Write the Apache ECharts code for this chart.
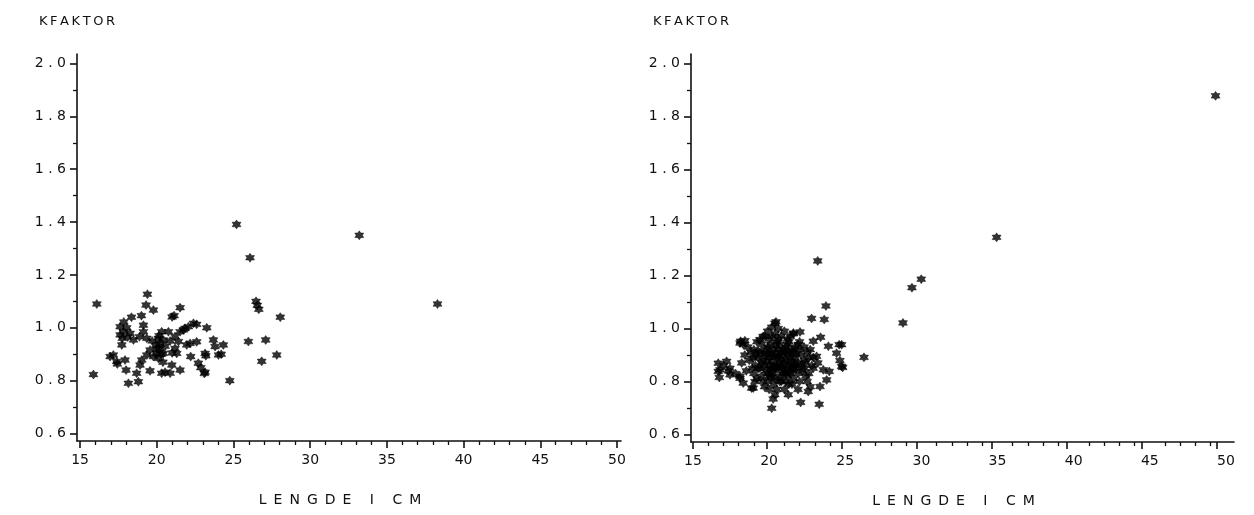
<!DOCTYPE html>
<html><head><meta charset="utf-8">
<script src="https://cdn.jsdelivr.net/npm/echarts@6/dist/echarts.min.js"></script>
<style>html,body{margin:0;padding:0;background:#fff}#c{width:1254px;height:515px}</style>
</head><body><div id="c"></div>
<script>
// Left panel: [length cm, K-factor]
const leftPoints = [
 [15.87,0.823],[16.09,1.09],[16.96,0.891],[17.17,0.897],[17.39,0.872],[17.43,0.863],
 [17.61,1.004],[17.61,0.973],[17.72,0.935],[17.82,0.985],[17.85,1.022],[17.93,0.878],
 [18.0,0.84],[18.04,1.0],[18.26,0.979],[18.35,1.04],[18.15,0.79],[18.48,0.954],
 [18.69,0.828],[18.8,0.796],[18.87,0.966],[18.91,0.859],[19.0,1.046],[19.02,0.878],
 [19.13,1.01],[19.13,0.985],[19.3,1.086],[19.35,0.96],[19.35,0.897],[19.39,1.127],
 [19.56,0.916],[19.56,0.837],[19.78,1.067],[19.78,0.891],[19.95,0.935],[20.0,0.903],
 [20.1,0.96],[20.11,0.884],[20.2,0.922],[20.32,0.985],[20.32,0.828],[20.43,0.954],
 [20.43,0.903],[20.54,0.832],[20.76,0.985],[20.87,0.95],[20.87,0.828],[20.98,0.859],
 [21.0,1.041],[21.13,1.046],[21.19,0.922],[21.19,0.967],[21.3,0.903],[21.41,0.948],
 [21.52,1.076],[21.52,0.985],[21.52,0.84],[21.74,0.992],[21.84,0.998],[21.95,0.935],
 [22.06,1.004],[22.17,0.941],[22.21,0.891],[22.39,1.017],[22.6,1.013],[22.6,0.947],
 [22.71,0.866],[22.87,0.849],[23.15,0.832],[23.15,0.903],[23.26,1.0],[23.1,0.827],
 [23.2,0.894],[23.69,0.954],[23.8,0.929],[24.02,0.897],[24.34,0.935],[24.2,0.9],
 [24.76,0.8],[25.2,1.391],[25.97,0.948],[26.08,1.265],[26.47,1.1],[26.55,1.085],
 [26.65,1.07],[26.84,0.873],[27.1,0.954],[27.82,0.897],[28.05,1.04],[33.2,1.35],
 [38.3,1.09],[20.2,0.94],[20.0,0.92],[20.3,0.9],[20.15,0.97],[20.4,0.87],
 [18.1,0.965],[17.75,0.96],[20.55,0.93],[21.0,0.905],[19.7,0.95]
];
// Right panel: [length cm, K-factor]
const rightPoints = [
 [19.6,0.97],[20.0,0.96],[20.4,0.98],[20.8,0.97],[21.2,0.96],[21.6,0.98],[19.2,0.95],[22.0,0.95],[20.6,1.0],[19.9,0.99],[21.0,0.99],
 [18.6,0.93],[19.0,0.92],[19.5,0.94],[19.9,0.93],[20.3,0.92],[20.7,0.94],[21.1,0.93],[21.5,0.92],[21.9,0.94],[22.3,0.93],[22.7,0.92],
 [18.4,0.9],[18.8,0.91],[19.3,0.89],[19.7,0.9],[20.1,0.91],[20.5,0.89],[20.9,0.9],[21.3,0.91],[21.7,0.89],[22.1,0.9],[22.5,0.91],[22.9,0.89],
 [18.2,0.87],[18.7,0.88],[19.1,0.86],[19.5,0.87],[19.9,0.88],[20.3,0.86],[20.7,0.87],[21.1,0.88],[21.5,0.86],[21.9,0.87],[22.3,0.88],[22.8,0.86],[23.2,0.87],
 [18.5,0.84],[19.0,0.83],[19.4,0.85],[19.8,0.84],[20.2,0.83],[20.6,0.85],[21.0,0.84],[21.4,0.83],[21.8,0.85],[22.2,0.84],[22.6,0.83],
 [19.2,0.81],[19.6,0.8],[20.0,0.82],[20.4,0.81],[20.8,0.8],[21.2,0.82],[21.6,0.81],[22.0,0.8],[22.4,0.82],
 [19.7,0.78],[20.5,0.77],[21.3,0.79],[21.9,0.77],[22.7,0.78],
 [20.2,0.9],[20.6,0.92],[21.0,0.87],[20.4,0.85],[20.9,0.83],[21.4,0.89],[20.0,0.86],[21.2,0.94],[20.8,0.88],[21.6,0.85],
 [19.4,0.91],[19.8,0.92],[20.1,0.94],[20.5,0.95],[20.9,0.92],[21.3,0.95],[21.7,0.93],[19.6,0.88],[20.0,0.89],[20.4,0.9],
 [20.8,0.91],[21.2,0.9],[21.6,0.91],[22.0,0.92],[19.3,0.85],[19.7,0.86],[20.1,0.85],[20.5,0.86],[20.9,0.85],[21.3,0.86],
 [21.7,0.87],[22.1,0.86],[19.5,0.82],[19.9,0.83],[20.3,0.84],[20.7,0.82],[21.1,0.83],[21.5,0.84],[21.9,0.83],[22.3,0.85],
 [19.9,0.8],[20.3,0.79],[20.7,0.8],[21.1,0.8],[21.5,0.79],[20.6,0.96],[21.4,0.97],[20.2,0.97],[19.1,0.9],[22.4,0.87],
 [22.6,0.89],[18.9,0.85],[22.5,0.8],[21.0,0.77],[20.0,0.77],
 [20.25,0.875],[20.65,0.895],[21.05,0.915],[21.45,0.875],[20.85,0.855],[20.45,0.935],[21.25,0.845],[20.15,0.815],[21.75,0.905],[19.85,0.905],
 [20.45,1.025],[20.17,1.005],[20.38,1.02],[19.73,0.971],[19.4,0.958],[18.13,0.952],[18.3,0.94],[18.41,0.954],[18.09,0.945],
 [19.29,0.914],[18.96,0.888],[21.59,0.983],[22.03,0.987],[22.9,0.952],[23.38,0.967],[22.79,1.038],[23.62,1.034],[23.73,1.085],
 [23.19,1.255],[23.89,0.933],[24.6,0.939],[24.43,0.907],[24.65,0.879],[24.83,0.853],[23.12,0.895],
 [23.78,0.806],[23.95,0.838],[23.34,0.781],[23.29,0.714],[22.07,0.721],[21.26,0.75],[22.57,0.762],[23.56,0.844],[22.9,0.85],
 [20.27,0.734],[20.17,0.699],[20.38,0.75],[18.85,0.775],[19.07,0.8],[18.96,0.775],[18.3,0.794],[18.09,0.812],[18.09,0.819],
 [16.66,0.838],[16.73,0.815],[17.32,0.84],[17.43,0.825],[16.66,0.869],[17.21,0.876],[17.43,0.85],[16.77,0.844],[17.8,0.83],[17.0,0.86],
 [26.23,0.891],[28.79,1.021],[29.38,1.154],[29.99,1.186],[34.94,1.344],[49.32,1.878],[24.76,0.939],[24.76,0.857]
];
// Tick scheme (both panels)
const xTickMin = 15, xTickMax = 50, xTickStep = 5, xMinorSplit = 5;
const yTickMin = 0.6, yTickMax = 2.0, yTickStep = 0.2, yMinorSplit = 2;
const xTitle = 'LENGDE I CM';
const yTitle = 'KFAKTOR';

const FONT = 'DejaVu Sans';
const INK = '#111';
const star = 'path://M0,-10L3,-5.2L8.66,-5L6,0L8.66,5L3,5.2L0,10L-3,5.2L-8.66,5L-6,0L-8.66,-5L-3,-5.2Z';
const spaced = (s, sep) => s.split('').join(sep);

// plot frames (pixels) and the value range spanned by each frame
const frames = [
  {left: 77, top: 54, width: 544, height: 387},
  {left: 691, top: 54, width: 543, height: 388}
];
const xRanges = [[14.8, 50.26], [14.87, 50.53]];
const yRange = [0.5716, 2.036];

const grids = [], xAxes = [], yAxes = [];
const mainX = [], mainY = [];
const hiddenAxis = (gi) => ({type: 'value', gridIndex: gi, show: false});
const lineStyle = {color: INK, width: 1.6};
const noTick = {show: true, length: 0.01, lineStyle: {color: 'rgba(0,0,0,0)', width: 0}};

frames.forEach((f, i) => {
  const xr = xRanges[i];
  const px = v => f.left + (v - xr[0]) / (xr[1] - xr[0]) * f.width;
  const py = v => f.top + (yRange[1] - v) / (yRange[1] - yRange[0]) * f.height;

  // main data grid (axis lines + names)
  const gMain = grids.length;
  grids.push({left: f.left, top: f.top, width: f.width, height: f.height});
  mainX.push(xAxes.length);
  xAxes.push({
    type: 'value', gridIndex: gMain, min: xr[0], max: xr[1],
    name: spaced(xTitle, '\u2002'), nameLocation: 'middle', nameGap: 52,
    nameTextStyle: {fontFamily: FONT, fontSize: 14, color: INK, padding: [0, 18, 0, 0]},
    axisLine: {show: true, onZero: false, lineStyle},
    axisTick: {show: false}, axisLabel: {show: false}, splitLine: {show: false}
  });
  mainY.push(yAxes.length);
  yAxes.push({
    type: 'value', gridIndex: gMain, min: yRange[0], max: yRange[1],
    name: spaced(yTitle, '\u2009'), nameLocation: 'end', nameGap: 26,
    nameTextStyle: {fontFamily: FONT, fontSize: 13, color: INK},
    axisLine: {show: true, onZero: false, lineStyle},
    axisTick: {show: false}, axisLabel: {show: false}, splitLine: {show: false}
  });

  // x labels + 1 cm ticks: grid spanning 15..50 exactly
  const gX = grids.length;
  const x0 = px(xTickMin), x1 = px(xTickMax);
  grids.push({left: x0, top: f.top, width: x1 - x0, height: f.height});
  xAxes.push({
    type: 'value', gridIndex: gX, min: xTickMin, max: xTickMax, interval: xTickStep,
    axisLine: {show: false},
    axisTick: noTick,
    minorTick: {show: true, splitNumber: xMinorSplit, length: 4, lineStyle: {color: INK, width: 1.3}},
    axisLabel: {show: true, margin: 12, fontFamily: FONT, fontSize: 14, color: INK},
    splitLine: {show: false}
  });
  yAxes.push(hiddenAxis(gX));

  // x major ticks (5 cm), drawn as half-step ticks of an axis shifted by half a step
  const gXM = grids.length;
  const xa = px(xTickMin - xTickStep / 2), xb = px(xTickMax + xTickStep / 2);
  grids.push({left: xa, top: f.top, width: xb - xa, height: f.height});
  xAxes.push({
    type: 'value', gridIndex: gXM, min: xTickMin - xTickStep / 2, max: xTickMax + xTickStep / 2, interval: xTickStep,
    axisLine: {show: false}, axisTick: noTick, axisLabel: {show: false}, splitLine: {show: false},
    minorTick: {show: true, splitNumber: 2, length: 7, lineStyle: {color: INK, width: 1.6}}
  });
  yAxes.push(hiddenAxis(gXM));

  // y labels + 0.1 ticks: grid spanning 0.6..2.0 exactly
  const gY = grids.length;
  const y0 = py(yTickMax), y1 = py(yTickMin);
  grids.push({left: f.left, top: y0, width: f.width, height: y1 - y0});
  xAxes.push(hiddenAxis(gY));
  yAxes.push({
    type: 'value', gridIndex: gY, min: yTickMin, max: yTickMax, interval: yTickStep,
    axisLine: {show: false},
    axisTick: noTick,
    minorTick: {show: true, splitNumber: yMinorSplit, length: 4, lineStyle: {color: INK, width: 1.3}},
    axisLabel: {show: true, margin: 11, fontFamily: FONT, fontSize: 14, color: INK,
      formatter: v => spaced(v.toFixed(1), ' ')},
    splitLine: {show: false}
  });

  // y major ticks (0.2)
  const gYM = grids.length;
  const ya = py(yTickMax + yTickStep / 2), yb = py(yTickMin - yTickStep / 2);
  grids.push({left: f.left, top: ya, width: f.width, height: yb - ya});
  xAxes.push(hiddenAxis(gYM));
  yAxes.push({
    type: 'value', gridIndex: gYM, min: yTickMin - yTickStep / 2, max: yTickMax + yTickStep / 2, interval: yTickStep,
    axisLine: {show: false}, axisTick: noTick, axisLabel: {show: false}, splitLine: {show: false},
    minorTick: {show: true, splitNumber: 2, length: 7, lineStyle: {color: INK, width: 1.6}}
  });
});

const chart = echarts.init(document.getElementById('c'), null, {renderer: 'canvas'});
chart.setOption({
  animation: false,
  backgroundColor: '#fff',
  grid: grids,
  xAxis: xAxes,
  yAxis: yAxes,
  series: [
    {type: 'scatter', xAxisIndex: mainX[0], yAxisIndex: mainY[0], symbol: star, symbolSize: 9,
     itemStyle: {color: '#000', borderColor: '#000', borderWidth: 0.5}, data: leftPoints},
    {type: 'scatter', xAxisIndex: mainX[1], yAxisIndex: mainY[1], symbol: star, symbolSize: 9,
     itemStyle: {color: '#000', borderColor: '#000', borderWidth: 0.5}, data: rightPoints}
  ]
});
</script></body></html>
